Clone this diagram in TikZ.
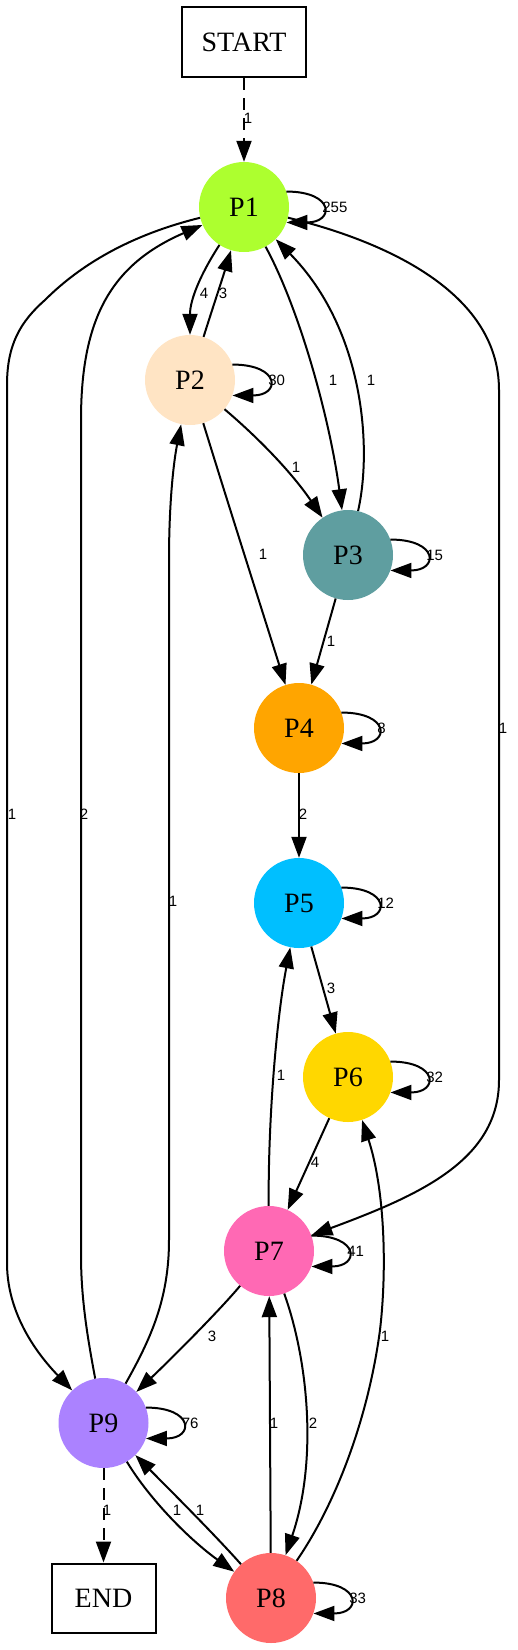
\documentclass[tikz,border=0pt]{standalone}
\usepackage{fontspec}
\setmainfont{Liberation Serif}
\newfontfamily\labelfont{Liberation Sans}
\usetikzlibrary{arrows.meta}
\definecolor{lime}{HTML}{ADFF2F}
\definecolor{bisque}{HTML}{FFE4C4}
\definecolor{cadet}{HTML}{5F9EA0}
\definecolor{amber}{HTML}{FFA500}
\definecolor{skyblue}{HTML}{00BFFF}
\definecolor{gold}{HTML}{FFD700}
\definecolor{hotpink}{HTML}{FF69B4}
\definecolor{coral}{HTML}{FF6A6A}
\definecolor{lavender}{HTML}{AB82FF}
\tikzset{
    state-node/.style = {circle, minimum size=90pt, inner sep=0pt, font=\fontsize{28}{32}\selectfont},
    end-box/.style = {draw, line width=2pt, rectangle, inner sep=0pt, font=\fontsize{28}{32}\selectfont},
    link/.style = {line width=2pt, -{Triangle[length=21pt, width=15pt]}},
    link-dashed/.style = {link, dash pattern=on 12pt off 8pt},
    edge-label/.style = {font=\labelfont\fontsize{15}{18}\selectfont, inner sep=0pt},
}

\begin{document}
\begin{tikzpicture}[x=1pt, y=-1pt]
\useasboundingbox (0,0) rectangle (517,1650);

% states
\node[end-box, minimum width=124pt, minimum height=70pt] (start) at (244,42) {START};
\node[state-node, fill=lime] (P1) at (244,207) {P1};
\node[state-node, fill=bisque] (P2) at (190,380) {P2};
\node[state-node, fill=cadet] (P3) at (348,555) {P3};
\node[state-node, fill=amber] (P4) at (299,728) {P4};
\node[state-node, fill=skyblue] (P5) at (299,903) {P5};
\node[state-node, fill=gold] (P6) at (348,1077) {P6};
\node[state-node, fill=hotpink] (P7) at (269,1251) {P7};
\node[state-node, fill=lavender] (P9) at (103.5,1423) {P9};
\node[state-node, fill=coral] (P8) at (271,1598) {P8};
\node[end-box, minimum width=104pt, minimum height=69pt] (end) at (103.5,1598) {END};

% self loops
\draw[link] (P1.20) to[out=0, in=0, looseness=4] (P1.-20);
\draw[link] (P2.20) to[out=0, in=0, looseness=4] (P2.-20);
\draw[link] (P3.20) to[out=0, in=0, looseness=4] (P3.-20);
\draw[link] (P4.20) to[out=0, in=0, looseness=4] (P4.-20);
\draw[link] (P5.20) to[out=0, in=0, looseness=4] (P5.-20);
\draw[link] (P6.20) to[out=0, in=0, looseness=4] (P6.-20);
\draw[link] (P7.20) to[out=0, in=0, looseness=4] (P7.-20);
\draw[link] (P9.20) to[out=0, in=0, looseness=4] (P9.-20);
\draw[link] (P8.20) to[out=0, in=0, looseness=4] (P8.-20);
\node[edge-label, anchor=west] (l11) at ([xshift=33pt]P1.east) {255};
\node[edge-label, anchor=west] (l22) at ([xshift=33pt]P2.east) {30};
\node[edge-label, anchor=west] (l33) at ([xshift=33pt]P3.east) {15};
\node[edge-label, anchor=west] (l44) at ([xshift=33pt]P4.east) {8};
\node[edge-label, anchor=west] (l55) at ([xshift=33pt]P5.east) {12};
\node[edge-label, anchor=west] (l66) at ([xshift=33pt]P6.east) {32};
\node[edge-label, anchor=west] (l77) at ([xshift=33pt]P7.east) {41};
\node[edge-label, anchor=west] (l99) at ([xshift=33pt]P9.east) {76};
\node[edge-label, anchor=west] (l88) at ([xshift=33pt]P8.east) {33};

% transitions
\draw[link-dashed] (start) -- (P1);
\draw[link] (P1) .. controls (200,275) and (190,300) .. (P2);
\draw[link] (P2) .. controls (212,310) and (222,280) .. (P1);
\draw[link] (P1) .. controls (300,310) and (330,420) .. (P3);
\draw[link] (P3) .. controls (372,450) and (365,330) .. (P1);
\draw[link] (P1) .. controls (130,235) and (80,265) .. (45,300)
    .. controls (20,322) and (7,345) .. (7,385) -- (7,1263)
    .. controls (7,1320) and (45,1362) .. (P9);
\draw[link] (P9) .. controls (88,1340) and (81,1300) .. (81,1255) -- (81,420)
    .. controls (81,320) and (110,265) .. (P1);
\draw[link] (P9) .. controls (150,1340) and (169,1300) .. (169,1240) -- (169,560)
    .. controls (169,500) and (174,460) .. (P2);
\draw[link] (P1) .. controls (380,240) and (499,290) .. (499,390) -- (499,1080)
    .. controls (499,1160) and (420,1195) .. (P7);
\draw[link] (P2) .. controls (255,435) and (290,470) .. (P3);
\draw[link] (P2) .. controls (230,510) and (262,610) .. (P4);
\draw[link] (P3) -- (P4);
\draw[link] (P4) -- (P5);
\draw[link] (P5) -- (P6);
\draw[link] (P6) -- (P7);
\draw[link] (P7) .. controls (268,1110) and (278,1010) .. (P5);
\draw[link] (P8) .. controls (335,1505) and (368,1420) .. (380,1330)
    .. controls (387,1270) and (385,1190) .. (P6);
\draw[link] (P7) .. controls (220,1310) and (170,1360) .. (P9);
\draw[link] (P7) .. controls (308,1360) and (318,1460) .. (P8);
\draw[link] (P8) -- (P7);
\draw[link] (P9) .. controls (150,1500) and (190,1540) .. (P8);
\draw[link] (P8) .. controls (215,1535) and (170,1490) .. (P9);
\draw[link-dashed] (P9) -- (end);

% transition counts
\node[edge-label] (l01) at (248,118) {1};
\node[edge-label] (l12) at (204,293) {4};
\node[edge-label] (l21) at (223,293) {3};
\node[edge-label] (l13) at (333,380) {1};
\node[edge-label] (l31) at (371,380) {1};
\node[edge-label] (l19) at (12,814) {1};
\node[edge-label] (l91) at (84,814) {2};
\node[edge-label] (l92) at (173,901) {1};
\node[edge-label] (l17) at (503,728) {1};
\node[edge-label] (l23) at (296,467) {1};
\node[edge-label] (l24) at (263,554) {1};
\node[edge-label] (l34) at (331,641) {1};
\node[edge-label] (l45) at (303,814) {2};
\node[edge-label] (l56) at (331,988) {3};
\node[edge-label] (l67) at (315,1162) {4};
\node[edge-label] (l75) at (281,1075) {1};
\node[edge-label] (l86) at (385,1336) {1};
\node[edge-label] (l79) at (212,1336) {3};
\node[edge-label] (l78) at (313,1423) {2};
\node[edge-label] (l87) at (274,1423) {1};
\node[edge-label] (l98) at (177,1510) {1};
\node[edge-label] (l89) at (200,1510) {1};
\node[edge-label] (l90) at (107,1510) {1};
\end{tikzpicture}
\end{document}
